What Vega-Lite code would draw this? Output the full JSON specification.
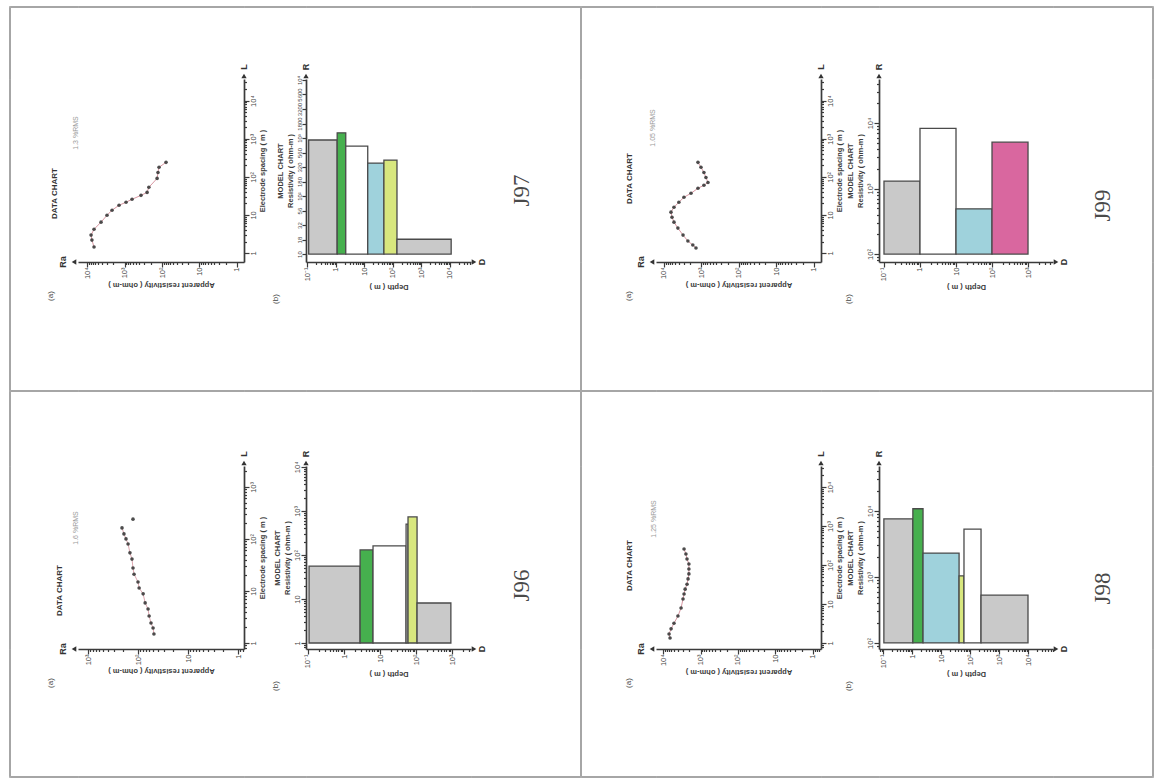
{
"$schema": "https://vega.github.io/schema/vega-lite/v6.json",
"background": "#ffffff",
"padding": {"left": 8, "top": 5, "right": 2, "bottom": 2},
"config": {
  "font": "Liberation Sans",
  "view": {"stroke": null},
  "axis": {"grid": false, "domainColor": "#3b3b3b", "domainWidth": 1.7, "tickColor": "#3b3b3b", "tickWidth": 1.2, "labelFontSize": 7.5, "labelColor": "#444444", "labelPadding": 0, "labelOverlap": false, "labelFlush": false, "titleFontSize": 7.5, "titleFontWeight": "bold", "titleColor": "#3b3b3b", "titlePadding": 2},
  "text": {"color": "#333333"}
},
"columns": 13,
"spacing": 0,
"bounds": "flush",
"align": "each",
"concat": [
{"width":1,"height":1,"data":{"values":[]},"mark":"text","view":{"stroke":"#a6a6a6","strokeWidth":1}},
{"width":68,"height":1,"data":{"values":[]},"mark":"text","view":{"stroke":"#a6a6a6","strokeWidth":1}},
{"width":166,"height":1,"data":{"values":[]},"mark":"text","view":{"stroke":"#a6a6a6","strokeWidth":1}},
{"width":62,"height":1,"data":{"values":[]},"mark":"text","view":{"stroke":"#a6a6a6","strokeWidth":1}},
{"width":165,"height":1,"data":{"values":[]},"mark":"text","view":{"stroke":"#a6a6a6","strokeWidth":1}},
{"width":109,"height":1,"data":{"values":[]},"mark":"text","view":{"stroke":"#a6a6a6","strokeWidth":1}},
{"width":1,"height":1,"data":{"values":[]},"mark":"text","view":{"stroke":"#a6a6a6","strokeWidth":1}},
{"width":75,"height":1,"data":{"values":[]},"mark":"text","view":{"stroke":"#a6a6a6","strokeWidth":1}},
{"width":165,"height":1,"data":{"values":[]},"mark":"text","view":{"stroke":"#a6a6a6","strokeWidth":1}},
{"width":58,"height":1,"data":{"values":[]},"mark":"text","view":{"stroke":"#a6a6a6","strokeWidth":1}},
{"width":174,"height":1,"data":{"values":[]},"mark":"text","view":{"stroke":"#a6a6a6","strokeWidth":1}},
{"width":99,"height":1,"data":{"values":[]},"mark":"text","view":{"stroke":"#a6a6a6","strokeWidth":1}},
{"width":1,"height":1,"data":{"values":[]},"mark":"text","view":{"stroke":"#a6a6a6","strokeWidth":1}},

{"width":1,"height":72,"data":{"values":[]},"mark":"text","view":{"stroke":"#a6a6a6","strokeWidth":1}},
{"width":1,"height":1,"data":{"values":[]},"mark":"text"},
{"width":1,"height":1,"data":{"values":[]},"mark":"text"},
{"width":1,"height":1,"data":{"values":[]},"mark":"text"},
{"width":1,"height":1,"data":{"values":[]},"mark":"text"},
{"width":1,"height":1,"data":{"values":[]},"mark":"text"},
{"width":1,"height":72,"data":{"values":[]},"mark":"text","view":{"stroke":"#a6a6a6","strokeWidth":1}},
{"width":1,"height":1,"data":{"values":[]},"mark":"text"},
{"width":1,"height":1,"data":{"values":[]},"mark":"text"},
{"width":1,"height":1,"data":{"values":[]},"mark":"text"},
{"width":1,"height":1,"data":{"values":[]},"mark":"text"},
{"width":1,"height":1,"data":{"values":[]},"mark":"text"},
{"width":1,"height":72,"data":{"values":[]},"mark":"text","view":{"stroke":"#a6a6a6","strokeWidth":1}},

{"width":1,"height":183,"data":{"values":[]},"mark":"text","view":{"stroke":"#a6a6a6","strokeWidth":1}},
{"width":1,"height":1,"data":{"values":[]},"mark":"text"},
{
 "width": 166, "height": 183,
 "title": {"text": "DATA CHART", "orient": "left", "anchor": "middle", "offset": -11.5, "fontSize": 8, "fontWeight": "bold", "color": "#333333", "dx": -23},
 "data": {"values": [{"Ra":6500,"L":1.44},{"Ra":7400,"L":2.18},{"Ra":7800,"L":2.95},{"Ra":6500,"L":4.2},{"Ra":4230,"L":6.45},{"Ra":2930,"L":9.8},{"Ra":2150,"L":13.3},{"Ra":1400,"L":17.9},{"Ra":910,"L":21.5},{"Ra":630,"L":25.7},{"Ra":363,"L":32.6},{"Ra":250,"L":39},{"Ra":224,"L":53},{"Ra":135,"L":91},{"Ra":128,"L":130},{"Ra":120,"L":178},{"Ra":78,"L":240}]},
 "layer": [
  {"mark": {"type": "line", "color": "#c76b7a", "strokeWidth": 1, "opacity": 0.7},
   "encoding": {
    "x": {"field": "Ra", "type": "quantitative", "scale": {"type": "log", "domain": [0.65, 17400], "reverse": true, "nice": false},
      "axis": {"title": "Apparent resistivity ( ohm-m )", "titleAngle": 180, "titleBaseline": "bottom", "labelAngle": 270,
        "values": [1,2,3,4,5,6,7,8,9,10,20,30,40,50,60,70,80,90,100,200,300,400,500,600,700,800,900,1000,2000,3000,4000,5000,6000,7000,8000,9000,10000],
        "labelExpr": "abs(log(datum.value)/LN10-round(log(datum.value)/LN10))>0.000001 ? '' : ['10⁻¹','1','10','10²','10³','10⁴','10⁵'][round(log(datum.value)/LN10)+1]",
        "tickSize": {"condition": {"test": "abs(log(datum.value)/LN10-round(log(datum.value)/LN10))<0.000001", "value": 5}, "value": 2.5}}},
    "y": {"field": "L", "type": "quantitative", "scale": {"type": "log", "domain": [0.58, 37000], "nice": false},
      "axis": {"orient": "right", "title": "Electrode spacing ( m )", "titleAngle": 270, "titleBaseline": "top", "labelAngle": 270,
        "values": [1,2,3,4,5,6,7,8,9,10,20,30,40,50,60,70,80,90,100,200,300,400,500,600,700,800,900,1000,2000,3000,4000,5000,6000,7000,8000,9000,10000,20000,30000],
        "labelExpr": "abs(log(datum.value)/LN10-round(log(datum.value)/LN10))>0.000001 ? '' : ['10⁻¹','1','10','10²','10³','10⁴','10⁵'][round(log(datum.value)/LN10)+1]",
        "tickSize": {"condition": {"test": "abs(log(datum.value)/LN10-round(log(datum.value)/LN10))<0.000001", "value": 5}, "value": 2.5}}},
    "order": {"field": "L", "type": "quantitative"}}},
  {"mark": {"type": "point", "filled": true, "size": 13, "color": "#3a3a3a", "opacity": 0.9},
   "encoding": {"x": {"field": "Ra", "type": "quantitative"}, "y": {"field": "L", "type": "quantitative"}}},
  {"data": {"values": [{}]}, "mark": {"type": "point", "shape": "triangle-left", "filled": true, "size": 28, "color": "#333333", "opacity": 1, "xOffset": -4},
   "encoding": {"x": {"datum": 17400, "type": "quantitative"}, "y": {"datum": 0.58, "type": "quantitative"}}},
  {"data": {"values": [{}]}, "mark": {"type": "point", "shape": "triangle-up", "filled": true, "size": 28, "color": "#333333", "opacity": 1, "yOffset": -3},
   "encoding": {"x": {"datum": 0.65, "type": "quantitative"}, "y": {"datum": 37000, "type": "quantitative"}}},
  {"data": {"values": [{}]}, "mark": {"type": "text", "text": "Ra", "angle": 270, "fontSize": 9, "fontWeight": "bold", "color": "#333333", "dy": -15},
   "encoding": {"x": {"datum": 17400, "type": "quantitative"}, "y": {"datum": 0.58, "type": "quantitative"}}},
  {"data": {"values": [{}]}, "mark": {"type": "text", "text": "L", "angle": 270, "fontSize": 9, "fontWeight": "bold", "color": "#333333", "dx": 12},
   "encoding": {"x": {"datum": 0.65, "type": "quantitative"}, "y": {"datum": 37000, "type": "quantitative"}}},
  {"data": {"values": [{}]}, "mark": {"type": "text", "text": "1.3 %RMS", "angle": 270, "fontSize": 7, "color": "#9a9a9a", "dy": -2},
   "encoding": {"x": {"datum": 17400, "type": "quantitative"}, "y": {"datum": 1413, "type": "quantitative"}}},
  {"data": {"values": [{}]}, "mark": {"type": "text", "text": "(a)", "angle": 270, "fontSize": 8, "color": "#444444", "dx": -34, "dy": -27},
   "encoding": {"x": {"datum": 17400, "type": "quantitative"}, "y": {"datum": 0.58, "type": "quantitative"}}}
 ]
},
{"width":1,"height":1,"data":{"values":[]},"mark":"text"},
{
 "width": 165, "height": 183,
 "title": {"text": "J97", "orient": "right", "angle": 270, "font": "Liberation Serif", "fontSize": 23, "fontWeight": "normal", "color": "#4a4a4a", "offset": 1, "dx": -20},
 "data": {"values": [{"d0":0.11,"d1":1.1,"r":925,"layer":"gray"},{"d0":1.1,"d1":2.2,"r":1230,"layer":"green"},{"d0":2.2,"d1":13,"r":725,"layer":"white"},{"d0":13,"d1":48,"r":370,"layer":"cyan"},{"d0":48,"d1":138,"r":417,"layer":"yellow"},{"d0":138,"d1":11000,"r":18,"layer":"gray"}]},
 "layer": [
  {"mark": {"type": "rect", "stroke": "#4a4a4a", "strokeWidth": 1.3},
   "encoding": {
    "x": {"field": "d0", "type": "quantitative", "scale": {"type": "log", "domain": [0.0886, 54600], "nice": false},
      "axis": {"title": "Depth ( m )", "titleAngle": 180, "titleBaseline": "bottom", "labelAngle": 270,
        "values": [0.1,0.2,0.3,0.4,0.5,0.6,0.7,0.8,0.9,1,2,3,4,5,6,7,8,9,10,20,30,40,50,60,70,80,90,100,200,300,400,500,600,700,800,900,1000,2000,3000,4000,5000,6000,7000,8000,9000,10000,20000,30000,40000,50000],
        "labelExpr": "abs(log(datum.value)/LN10-round(log(datum.value)/LN10))>0.000001 ? '' : ['10⁻¹','1','10','10²','10³','10⁴','10⁵'][round(log(datum.value)/LN10)+1]",
        "tickSize": {"condition": {"test": "abs(log(datum.value)/LN10-round(log(datum.value)/LN10))<0.000001", "value": 5}, "value": 2.5}}},
    "x2": {"field": "d1"},
    "y": {"field": "r", "type": "quantitative", "scale": {"type": "log", "domain": [7.3, 10400], "nice": false},
      "axis": {"title": ["MODEL CHART", "Resistivity ( ohm-m )"], "labelAngle": 270, "labelFontSize": 6,
        "values": [10,17.78,31.62,56.23,100,177.8,316.2,562.3,1000,1778,3162,5623,10000],
        "labelExpr": "abs(log(datum.value)/LN10-round(log(datum.value)/LN10))>0.000001 ? format(datum.value,'.2r') : ['10⁻¹','1','10','10²','10³','10⁴','10⁵'][round(log(datum.value)/LN10)+1]",
        "tickSize": 4}},
    "y2": {"datum": 10},
    "color": {"field": "layer", "type": "nominal", "scale": {"domain": ["gray","green","white","cyan","yellow","pink"], "range": ["#c9c9c9","#46b04e","#ffffff","#9fd2dc","#d8e77e","#d9679f"]}, "legend": null}}},
  {"data": {"values": [{}]}, "mark": {"type": "point", "shape": "triangle-up", "filled": true, "size": 28, "color": "#333333", "opacity": 1, "yOffset": -3},
   "encoding": {"x": {"datum": 0.0886, "type": "quantitative"}, "y": {"datum": 10400, "type": "quantitative"}}},
  {"data": {"values": [{}]}, "mark": {"type": "point", "shape": "triangle-right", "filled": true, "size": 28, "color": "#333333", "opacity": 1, "xOffset": 3},
   "encoding": {"x": {"datum": 54600, "type": "quantitative"}, "y": {"datum": 7.3, "type": "quantitative"}}},
  {"data": {"values": [{}]}, "mark": {"type": "text", "text": "R", "angle": 270, "fontSize": 9, "fontWeight": "bold", "color": "#333333", "dx": 12},
   "encoding": {"x": {"datum": 0.0886, "type": "quantitative"}, "y": {"datum": 10400, "type": "quantitative"}}},
  {"data": {"values": [{}]}, "mark": {"type": "text", "text": "D", "angle": 270, "fontSize": 9, "fontWeight": "bold", "color": "#333333", "dy": 11},
   "encoding": {"x": {"datum": 54600, "type": "quantitative"}, "y": {"datum": 7.3, "type": "quantitative"}}},
  {"data": {"values": [{}]}, "mark": {"type": "text", "text": "(b)", "angle": 270, "fontSize": 8, "color": "#444444", "dx": -37, "dy": -30},
   "encoding": {"x": {"datum": 0.0886, "type": "quantitative"}, "y": {"datum": 7.3, "type": "quantitative"}}}
 ]
},
{"width":1,"height":1,"data":{"values":[]},"mark":"text"},
{"width":1,"height":183,"data":{"values":[]},"mark":"text","view":{"stroke":"#a6a6a6","strokeWidth":1}},
{"width":1,"height":1,"data":{"values":[]},"mark":"text"},
{
 "width": 165, "height": 183,
 "title": {"text": "DATA CHART", "orient": "left", "anchor": "middle", "offset": -8.5, "fontSize": 8, "fontWeight": "bold", "color": "#333333", "dx": -8},
 "data": {"values": [{"Ra":1400,"L":1.35},{"Ra":1700,"L":1.62},{"Ra":2300,"L":2.06},{"Ra":3100,"L":2.95},{"Ra":4250,"L":4.5},{"Ra":5400,"L":6.45},{"Ra":6100,"L":8.7},{"Ra":6500,"L":11.8},{"Ra":5400,"L":15.9},{"Ra":4000,"L":21.5},{"Ra":2930,"L":29},{"Ra":1900,"L":37},{"Ra":1240,"L":50},{"Ra":860,"L":60},{"Ra":670,"L":71},{"Ra":760,"L":96},{"Ra":860,"L":130},{"Ra":1030,"L":178},{"Ra":1240,"L":240}]},
 "layer": [
  {"mark": {"type": "line", "color": "#c76b7a", "strokeWidth": 1, "opacity": 0.7},
   "encoding": {
    "x": {"field": "Ra", "type": "quantitative", "scale": {"type": "log", "domain": [0.65, 16300], "reverse": true, "nice": false},
      "axis": {"title": "Apparent resistivity ( ohm-m )", "titleAngle": 180, "titleBaseline": "bottom", "labelAngle": 270,
        "values": [1,2,3,4,5,6,7,8,9,10,20,30,40,50,60,70,80,90,100,200,300,400,500,600,700,800,900,1000,2000,3000,4000,5000,6000,7000,8000,9000,10000],
        "labelExpr": "abs(log(datum.value)/LN10-round(log(datum.value)/LN10))>0.000001 ? '' : ['10⁻¹','1','10','10²','10³','10⁴','10⁵'][round(log(datum.value)/LN10)+1]",
        "tickSize": {"condition": {"test": "abs(log(datum.value)/LN10-round(log(datum.value)/LN10))<0.000001", "value": 5}, "value": 2.5}}},
    "y": {"field": "L", "type": "quantitative", "scale": {"type": "log", "domain": [0.58, 37000], "nice": false},
      "axis": {"orient": "right", "title": "Electrode spacing ( m )", "titleAngle": 270, "titleBaseline": "top", "labelAngle": 270,
        "values": [1,2,3,4,5,6,7,8,9,10,20,30,40,50,60,70,80,90,100,200,300,400,500,600,700,800,900,1000,2000,3000,4000,5000,6000,7000,8000,9000,10000,20000,30000],
        "labelExpr": "abs(log(datum.value)/LN10-round(log(datum.value)/LN10))>0.000001 ? '' : ['10⁻¹','1','10','10²','10³','10⁴','10⁵'][round(log(datum.value)/LN10)+1]",
        "tickSize": {"condition": {"test": "abs(log(datum.value)/LN10-round(log(datum.value)/LN10))<0.000001", "value": 5}, "value": 2.5}}},
    "order": {"field": "L", "type": "quantitative"}}},
  {"mark": {"type": "point", "filled": true, "size": 13, "color": "#3a3a3a", "opacity": 0.9},
   "encoding": {"x": {"field": "Ra", "type": "quantitative"}, "y": {"field": "L", "type": "quantitative"}}},
  {"data": {"values": [{}]}, "mark": {"type": "point", "shape": "triangle-left", "filled": true, "size": 28, "color": "#333333", "opacity": 1, "xOffset": -4},
   "encoding": {"x": {"datum": 16300, "type": "quantitative"}, "y": {"datum": 0.58, "type": "quantitative"}}},
  {"data": {"values": [{}]}, "mark": {"type": "point", "shape": "triangle-up", "filled": true, "size": 28, "color": "#333333", "opacity": 1, "yOffset": -3},
   "encoding": {"x": {"datum": 0.65, "type": "quantitative"}, "y": {"datum": 37000, "type": "quantitative"}}},
  {"data": {"values": [{}]}, "mark": {"type": "text", "text": "Ra", "angle": 270, "fontSize": 9, "fontWeight": "bold", "color": "#333333", "dy": -15},
   "encoding": {"x": {"datum": 16300, "type": "quantitative"}, "y": {"datum": 0.58, "type": "quantitative"}}},
  {"data": {"values": [{}]}, "mark": {"type": "text", "text": "L", "angle": 270, "fontSize": 9, "fontWeight": "bold", "color": "#333333", "dx": 12},
   "encoding": {"x": {"datum": 0.65, "type": "quantitative"}, "y": {"datum": 37000, "type": "quantitative"}}},
  {"data": {"values": [{}]}, "mark": {"type": "text", "text": "1.05 %RMS", "angle": 270, "fontSize": 7, "color": "#9a9a9a", "dy": -3},
   "encoding": {"x": {"datum": 16300, "type": "quantitative"}, "y": {"datum": 1914, "type": "quantitative"}}},
  {"data": {"values": [{}]}, "mark": {"type": "text", "text": "(a)", "angle": 270, "fontSize": 8, "color": "#444444", "dx": -34, "dy": -27},
   "encoding": {"x": {"datum": 16300, "type": "quantitative"}, "y": {"datum": 0.58, "type": "quantitative"}}}
 ]
},
{"width":1,"height":1,"data":{"values":[]},"mark":"text"},
{
 "width": 174, "height": 183,
 "title": {"text": "J99", "orient": "right", "angle": 270, "font": "Liberation Serif", "fontSize": 23, "fontWeight": "normal", "color": "#4a4a4a", "offset": 0, "dx": -35},
 "data": {"values": [{"d0":0.1,"d1":1,"r":1300,"layer":"gray"},{"d0":1,"d1":10,"r":8300,"layer":"white"},{"d0":10,"d1":100,"r":490,"layer":"cyan"},{"d0":100,"d1":1000,"r":5100,"layer":"pink"}]},
 "layer": [
  {"mark": {"type": "rect", "stroke": "#4a4a4a", "strokeWidth": 1.3},
   "encoding": {
    "x": {"field": "d0", "type": "quantitative", "scale": {"type": "log", "domain": [0.0727, 4940], "nice": false},
      "axis": {"title": "Depth ( m )", "titleAngle": 180, "titleBaseline": "bottom", "labelAngle": 270,
        "values": [0.1,0.2,0.3,0.4,0.5,0.6,0.7,0.8,0.9,1,2,3,4,5,6,7,8,9,10,20,30,40,50,60,70,80,90,100,200,300,400,500,600,700,800,900,1000,2000,3000,4000],
        "labelExpr": "abs(log(datum.value)/LN10-round(log(datum.value)/LN10))>0.000001 ? '' : ['10⁻¹','1','10','10²','10³','10⁴','10⁵'][round(log(datum.value)/LN10)+1]",
        "tickSize": {"condition": {"test": "abs(log(datum.value)/LN10-round(log(datum.value)/LN10))<0.000001", "value": 5}, "value": 2.5}}},
    "x2": {"field": "d1"},
    "y": {"field": "r", "type": "quantitative", "scale": {"type": "log", "domain": [75.6, 47000], "nice": false},
      "axis": {"title": ["MODEL CHART", "Resistivity ( ohm-m )"], "labelAngle": 270,
        "values": [80,90,100,200,300,400,500,600,700,800,900,1000,2000,3000,4000,5000,6000,7000,8000,9000,10000,20000,30000,40000],
        "labelExpr": "abs(log(datum.value)/LN10-round(log(datum.value)/LN10))>0.000001 ? '' : ['10⁻¹','1','10','10²','10³','10⁴','10⁵'][round(log(datum.value)/LN10)+1]",
        "tickSize": {"condition": {"test": "abs(log(datum.value)/LN10-round(log(datum.value)/LN10))<0.000001", "value": 5}, "value": 2.5}}},
    "y2": {"datum": 100},
    "color": {"field": "layer", "type": "nominal", "scale": {"domain": ["gray","green","white","cyan","yellow","pink"], "range": ["#c9c9c9","#46b04e","#ffffff","#9fd2dc","#d8e77e","#d9679f"]}, "legend": null}}},
  {"data": {"values": [{}]}, "mark": {"type": "point", "shape": "triangle-up", "filled": true, "size": 28, "color": "#333333", "opacity": 1, "yOffset": -3},
   "encoding": {"x": {"datum": 0.0727, "type": "quantitative"}, "y": {"datum": 47000, "type": "quantitative"}}},
  {"data": {"values": [{}]}, "mark": {"type": "point", "shape": "triangle-right", "filled": true, "size": 28, "color": "#333333", "opacity": 1, "xOffset": 3},
   "encoding": {"x": {"datum": 4940, "type": "quantitative"}, "y": {"datum": 75.6, "type": "quantitative"}}},
  {"data": {"values": [{}]}, "mark": {"type": "text", "text": "R", "angle": 270, "fontSize": 9, "fontWeight": "bold", "color": "#333333", "dx": 12},
   "encoding": {"x": {"datum": 0.0727, "type": "quantitative"}, "y": {"datum": 47000, "type": "quantitative"}}},
  {"data": {"values": [{}]}, "mark": {"type": "text", "text": "D", "angle": 270, "fontSize": 9, "fontWeight": "bold", "color": "#333333", "dy": 11},
   "encoding": {"x": {"datum": 4940, "type": "quantitative"}, "y": {"datum": 75.6, "type": "quantitative"}}},
  {"data": {"values": [{}]}, "mark": {"type": "text", "text": "(b)", "angle": 270, "fontSize": 8, "color": "#444444", "dx": -37, "dy": -30},
   "encoding": {"x": {"datum": 0.0727, "type": "quantitative"}, "y": {"datum": 75.6, "type": "quantitative"}}}
 ]
},
{"width":1,"height":1,"data":{"values":[]},"mark":"text"},
{"width":1,"height":183,"data":{"values":[]},"mark":"text","view":{"stroke":"#a6a6a6","strokeWidth":1}},

{"width":1,"height":128,"data":{"values":[]},"mark":"text","view":{"stroke":"#a6a6a6","strokeWidth":1}},
{"width":1,"height":1,"data":{"values":[]},"mark":"text"},
{"width":1,"height":1,"data":{"values":[]},"mark":"text"},
{"width":1,"height":1,"data":{"values":[]},"mark":"text"},
{"width":1,"height":1,"data":{"values":[]},"mark":"text"},
{"width":1,"height":1,"data":{"values":[]},"mark":"text"},
{"width":1,"height":128,"data":{"values":[]},"mark":"text","view":{"stroke":"#a6a6a6","strokeWidth":1}},
{"width":1,"height":1,"data":{"values":[]},"mark":"text"},
{"width":1,"height":1,"data":{"values":[]},"mark":"text"},
{"width":1,"height":1,"data":{"values":[]},"mark":"text"},
{"width":1,"height":1,"data":{"values":[]},"mark":"text"},
{"width":1,"height":1,"data":{"values":[]},"mark":"text"},
{"width":1,"height":128,"data":{"values":[]},"mark":"text","view":{"stroke":"#a6a6a6","strokeWidth":1}},

{"width":1,"height":1,"data":{"values":[]},"mark":"text","view":{"stroke":"#a6a6a6","strokeWidth":1}},
{"width":68,"height":1,"data":{"values":[]},"mark":"text","view":{"stroke":"#a6a6a6","strokeWidth":1}},
{"width":166,"height":1,"data":{"values":[]},"mark":"text","view":{"stroke":"#a6a6a6","strokeWidth":1}},
{"width":62,"height":1,"data":{"values":[]},"mark":"text","view":{"stroke":"#a6a6a6","strokeWidth":1}},
{"width":165,"height":1,"data":{"values":[]},"mark":"text","view":{"stroke":"#a6a6a6","strokeWidth":1}},
{"width":109,"height":1,"data":{"values":[]},"mark":"text","view":{"stroke":"#a6a6a6","strokeWidth":1}},
{"width":1,"height":1,"data":{"values":[]},"mark":"text","view":{"stroke":"#a6a6a6","strokeWidth":1}},
{"width":75,"height":1,"data":{"values":[]},"mark":"text","view":{"stroke":"#a6a6a6","strokeWidth":1}},
{"width":165,"height":1,"data":{"values":[]},"mark":"text","view":{"stroke":"#a6a6a6","strokeWidth":1}},
{"width":58,"height":1,"data":{"values":[]},"mark":"text","view":{"stroke":"#a6a6a6","strokeWidth":1}},
{"width":174,"height":1,"data":{"values":[]},"mark":"text","view":{"stroke":"#a6a6a6","strokeWidth":1}},
{"width":99,"height":1,"data":{"values":[]},"mark":"text","view":{"stroke":"#a6a6a6","strokeWidth":1}},
{"width":1,"height":1,"data":{"values":[]},"mark":"text","view":{"stroke":"#a6a6a6","strokeWidth":1}},

{"width":1,"height":75,"data":{"values":[]},"mark":"text","view":{"stroke":"#a6a6a6","strokeWidth":1}},
{"width":1,"height":1,"data":{"values":[]},"mark":"text"},
{"width":1,"height":1,"data":{"values":[]},"mark":"text"},
{"width":1,"height":1,"data":{"values":[]},"mark":"text"},
{"width":1,"height":1,"data":{"values":[]},"mark":"text"},
{"width":1,"height":1,"data":{"values":[]},"mark":"text"},
{"width":1,"height":75,"data":{"values":[]},"mark":"text","view":{"stroke":"#a6a6a6","strokeWidth":1}},
{"width":1,"height":1,"data":{"values":[]},"mark":"text"},
{"width":1,"height":1,"data":{"values":[]},"mark":"text"},
{"width":1,"height":1,"data":{"values":[]},"mark":"text"},
{"width":1,"height":1,"data":{"values":[]},"mark":"text"},
{"width":1,"height":1,"data":{"values":[]},"mark":"text"},
{"width":1,"height":75,"data":{"values":[]},"mark":"text","view":{"stroke":"#a6a6a6","strokeWidth":1}},

{"width":1,"height":183,"data":{"values":[]},"mark":"text","view":{"stroke":"#a6a6a6","strokeWidth":1}},
{"width":1,"height":1,"data":{"values":[]},"mark":"text"},
{
 "width": 166, "height": 183,
 "title": {"text": "DATA CHART", "orient": "left", "anchor": "middle", "offset": -16.5, "fontSize": 8, "fontWeight": "bold", "color": "#333333", "dx": -33},
 "data": {"values": [{"Ra":48,"L":1.49},{"Ra":50,"L":1.94},{"Ra":55,"L":2.43},{"Ra":60,"L":3.3},{"Ra":63,"L":4.5},{"Ra":72,"L":5.9},{"Ra":79,"L":8.8},{"Ra":95,"L":11.4},{"Ra":100,"L":14.9},{"Ra":120,"L":21},{"Ra":126,"L":27.6},{"Ra":132,"L":41},{"Ra":145,"L":54},{"Ra":158,"L":80},{"Ra":174,"L":100},{"Ra":191,"L":125},{"Ra":209,"L":163},{"Ra":126,"L":240}]},
 "layer": [
  {"transform": [{"filter": "datum.L < 200"}],
   "mark": {"type": "line", "color": "#c76b7a", "strokeWidth": 1, "opacity": 0.6},
   "encoding": {
    "x": {"field": "Ra", "type": "quantitative", "scale": {"type": "log", "domain": [0.76, 1585], "reverse": true, "nice": false},
      "axis": {"title": "Apparent resistivity ( ohm-m )", "titleAngle": 180, "titleBaseline": "bottom", "labelAngle": 270,
        "values": [0.8,0.9,1,2,3,4,5,6,7,8,9,10,20,30,40,50,60,70,80,90,100,200,300,400,500,600,700,800,900,1000],
        "labelExpr": "abs(log(datum.value)/LN10-round(log(datum.value)/LN10))>0.000001 ? '' : ['10⁻¹','1','10','10²','10³','10⁴','10⁵'][round(log(datum.value)/LN10)+1]",
        "tickSize": {"condition": {"test": "abs(log(datum.value)/LN10-round(log(datum.value)/LN10))<0.000001", "value": 5}, "value": 2.5}}},
    "y": {"field": "L", "type": "quantitative", "scale": {"type": "log", "domain": [0.767, 2520], "nice": false},
      "axis": {"orient": "right", "title": "Electrode spacing ( m )", "titleAngle": 270, "titleBaseline": "top", "labelAngle": 270,
        "values": [0.8,0.9,1,2,3,4,5,6,7,8,9,10,20,30,40,50,60,70,80,90,100,200,300,400,500,600,700,800,900,1000,2000],
        "labelExpr": "abs(log(datum.value)/LN10-round(log(datum.value)/LN10))>0.000001 ? '' : ['10⁻¹','1','10','10²','10³','10⁴','10⁵'][round(log(datum.value)/LN10)+1]",
        "tickSize": {"condition": {"test": "abs(log(datum.value)/LN10-round(log(datum.value)/LN10))<0.000001", "value": 5}, "value": 2.5}}},
    "order": {"field": "L", "type": "quantitative"}}},
  {"mark": {"type": "point", "filled": true, "size": 13, "color": "#3a3a3a", "opacity": 0.9},
   "encoding": {"x": {"field": "Ra", "type": "quantitative"}, "y": {"field": "L", "type": "quantitative"}}},
  {"data": {"values": [{}]}, "mark": {"type": "point", "shape": "triangle-left", "filled": true, "size": 28, "color": "#333333", "opacity": 1, "xOffset": -4},
   "encoding": {"x": {"datum": 1585, "type": "quantitative"}, "y": {"datum": 0.767, "type": "quantitative"}}},
  {"data": {"values": [{}]}, "mark": {"type": "point", "shape": "triangle-up", "filled": true, "size": 28, "color": "#333333", "opacity": 1, "yOffset": -3},
   "encoding": {"x": {"datum": 0.76, "type": "quantitative"}, "y": {"datum": 2520, "type": "quantitative"}}},
  {"data": {"values": [{}]}, "mark": {"type": "text", "text": "Ra", "angle": 270, "fontSize": 9, "fontWeight": "bold", "color": "#333333", "dy": -15},
   "encoding": {"x": {"datum": 1585, "type": "quantitative"}, "y": {"datum": 0.767, "type": "quantitative"}}},
  {"data": {"values": [{}]}, "mark": {"type": "text", "text": "L", "angle": 270, "fontSize": 9, "fontWeight": "bold", "color": "#333333", "dx": 12},
   "encoding": {"x": {"datum": 0.76, "type": "quantitative"}, "y": {"datum": 2520, "type": "quantitative"}}},
  {"data": {"values": [{}]}, "mark": {"type": "text", "text": "1.6 %RMS", "angle": 270, "fontSize": 7, "color": "#9a9a9a", "dy": -2},
   "encoding": {"x": {"datum": 1585, "type": "quantitative"}, "y": {"datum": 162, "type": "quantitative"}}},
  {"data": {"values": [{}]}, "mark": {"type": "text", "text": "(a)", "angle": 270, "fontSize": 8, "color": "#444444", "dx": -34, "dy": -27},
   "encoding": {"x": {"datum": 1585, "type": "quantitative"}, "y": {"datum": 0.767, "type": "quantitative"}}}
 ]
},
{"width":1,"height":1,"data":{"values":[]},"mark":"text"},
{
 "width": 165, "height": 183,
 "title": {"text": "J96", "orient": "right", "angle": 270, "font": "Liberation Serif", "fontSize": 23, "fontWeight": "normal", "color": "#4a4a4a", "offset": 1, "dx": -28},
 "data": {"values": [{"d0":0.107,"d1":2.8,"r":56,"layer":"gray"},{"d0":2.8,"d1":6.4,"r":130,"layer":"green"},{"d0":6.4,"d1":53,"r":160,"layer":"white"},{"d0":53,"d1":60,"r":500,"layer":"white"},{"d0":60,"d1":107,"r":730,"layer":"yellow"},{"d0":107,"d1":930,"r":8.1,"layer":"gray"}]},
 "layer": [
  {"mark": {"type": "rect", "stroke": "#4a4a4a", "strokeWidth": 1.3},
   "encoding": {
    "x": {"field": "d0", "type": "quantitative", "scale": {"type": "log", "domain": [0.088, 3370], "nice": false},
      "axis": {"title": "Depth ( m )", "titleAngle": 180, "titleBaseline": "bottom", "labelAngle": 270,
        "values": [0.1,0.2,0.3,0.4,0.5,0.6,0.7,0.8,0.9,1,2,3,4,5,6,7,8,9,10,20,30,40,50,60,70,80,90,100,200,300,400,500,600,700,800,900,1000,2000,3000],
        "labelExpr": "abs(log(datum.value)/LN10-round(log(datum.value)/LN10))>0.000001 ? '' : ['10⁻¹','1','10','10²','10³','10⁴','10⁵'][round(log(datum.value)/LN10)+1]",
        "tickSize": {"condition": {"test": "abs(log(datum.value)/LN10-round(log(datum.value)/LN10))<0.000001", "value": 5}, "value": 2.5}}},
    "x2": {"field": "d1"},
    "y": {"field": "r", "type": "quantitative", "scale": {"type": "log", "domain": [0.73, 10500], "nice": false},
      "axis": {"title": ["MODEL CHART", "Resistivity ( ohm-m )"], "labelAngle": 270,
        "values": [0.8,0.9,1,2,3,4,5,6,7,8,9,10,20,30,40,50,60,70,80,90,100,200,300,400,500,600,700,800,900,1000,2000,3000,4000,5000,6000,7000,8000,9000,10000],
        "labelExpr": "abs(log(datum.value)/LN10-round(log(datum.value)/LN10))>0.000001 ? '' : ['10⁻¹','1','10','10²','10³','10⁴','10⁵'][round(log(datum.value)/LN10)+1]",
        "tickSize": {"condition": {"test": "abs(log(datum.value)/LN10-round(log(datum.value)/LN10))<0.000001", "value": 5}, "value": 2.5}}},
    "y2": {"datum": 1},
    "color": {"field": "layer", "type": "nominal", "scale": {"domain": ["gray","green","white","cyan","yellow","pink"], "range": ["#c9c9c9","#46b04e","#ffffff","#9fd2dc","#d8e77e","#d9679f"]}, "legend": null}}},
  {"data": {"values": [{}]}, "mark": {"type": "point", "shape": "triangle-up", "filled": true, "size": 28, "color": "#333333", "opacity": 1, "yOffset": -3},
   "encoding": {"x": {"datum": 0.088, "type": "quantitative"}, "y": {"datum": 10500, "type": "quantitative"}}},
  {"data": {"values": [{}]}, "mark": {"type": "point", "shape": "triangle-right", "filled": true, "size": 28, "color": "#333333", "opacity": 1, "xOffset": 3},
   "encoding": {"x": {"datum": 3370, "type": "quantitative"}, "y": {"datum": 0.73, "type": "quantitative"}}},
  {"data": {"values": [{}]}, "mark": {"type": "text", "text": "R", "angle": 270, "fontSize": 9, "fontWeight": "bold", "color": "#333333", "dx": 12},
   "encoding": {"x": {"datum": 0.088, "type": "quantitative"}, "y": {"datum": 10500, "type": "quantitative"}}},
  {"data": {"values": [{}]}, "mark": {"type": "text", "text": "D", "angle": 270, "fontSize": 9, "fontWeight": "bold", "color": "#333333", "dy": 11},
   "encoding": {"x": {"datum": 3370, "type": "quantitative"}, "y": {"datum": 0.73, "type": "quantitative"}}},
  {"data": {"values": [{}]}, "mark": {"type": "text", "text": "(b)", "angle": 270, "fontSize": 8, "color": "#444444", "dx": -37, "dy": -30},
   "encoding": {"x": {"datum": 0.088, "type": "quantitative"}, "y": {"datum": 0.73, "type": "quantitative"}}}
 ]
},
{"width":1,"height":1,"data":{"values":[]},"mark":"text"},
{"width":1,"height":183,"data":{"values":[]},"mark":"text","view":{"stroke":"#a6a6a6","strokeWidth":1}},
{"width":1,"height":1,"data":{"values":[]},"mark":"text"},
{
 "width": 165, "height": 183,
 "title": {"text": "DATA CHART", "orient": "left", "anchor": "middle", "offset": -8.5, "fontSize": 8, "fontWeight": "bold", "color": "#333333", "dx": -8},
 "data": {"values": [{"Ra":6500,"L":1.34},{"Ra":6900,"L":1.7},{"Ra":6100,"L":2.3},{"Ra":5100,"L":3.2},{"Ra":4000,"L":4.9},{"Ra":3300,"L":7.9},{"Ra":2930,"L":13.4},{"Ra":2750,"L":18},{"Ra":2570,"L":24},{"Ra":2290,"L":32},{"Ra":2150,"L":44},{"Ra":2040,"L":59},{"Ra":2040,"L":79},{"Ra":2040,"L":106},{"Ra":2290,"L":142},{"Ra":2450,"L":191},{"Ra":2750,"L":257}]},
 "layer": [
  {"mark": {"type": "line", "color": "#c76b7a", "strokeWidth": 1, "opacity": 0.7},
   "encoding": {
    "x": {"field": "Ra", "type": "quantitative", "scale": {"type": "log", "domain": [0.61, 15400], "reverse": true, "nice": false},
      "axis": {"title": "Apparent resistivity ( ohm-m )", "titleAngle": 180, "titleBaseline": "bottom", "labelAngle": 270,
        "values": [0.7,0.8,0.9,1,2,3,4,5,6,7,8,9,10,20,30,40,50,60,70,80,90,100,200,300,400,500,600,700,800,900,1000,2000,3000,4000,5000,6000,7000,8000,9000,10000],
        "labelExpr": "abs(log(datum.value)/LN10-round(log(datum.value)/LN10))>0.000001 ? '' : ['10⁻¹','1','10','10²','10³','10⁴','10⁵'][round(log(datum.value)/LN10)+1]",
        "tickSize": {"condition": {"test": "abs(log(datum.value)/LN10-round(log(datum.value)/LN10))<0.000001", "value": 5}, "value": 2.5}}},
    "y": {"field": "L", "type": "quantitative", "scale": {"type": "log", "domain": [0.70, 34600], "nice": false},
      "axis": {"orient": "right", "title": "Electrode spacing ( m )", "titleAngle": 270, "titleBaseline": "top", "labelAngle": 270,
        "values": [0.8,0.9,1,2,3,4,5,6,7,8,9,10,20,30,40,50,60,70,80,90,100,200,300,400,500,600,700,800,900,1000,2000,3000,4000,5000,6000,7000,8000,9000,10000,20000,30000],
        "labelExpr": "abs(log(datum.value)/LN10-round(log(datum.value)/LN10))>0.000001 ? '' : ['10⁻¹','1','10','10²','10³','10⁴','10⁵'][round(log(datum.value)/LN10)+1]",
        "tickSize": {"condition": {"test": "abs(log(datum.value)/LN10-round(log(datum.value)/LN10))<0.000001", "value": 5}, "value": 2.5}}},
    "order": {"field": "L", "type": "quantitative"}}},
  {"mark": {"type": "point", "filled": true, "size": 13, "color": "#3a3a3a", "opacity": 0.9},
   "encoding": {"x": {"field": "Ra", "type": "quantitative"}, "y": {"field": "L", "type": "quantitative"}}},
  {"data": {"values": [{}]}, "mark": {"type": "point", "shape": "triangle-left", "filled": true, "size": 28, "color": "#333333", "opacity": 1, "xOffset": -4},
   "encoding": {"x": {"datum": 15400, "type": "quantitative"}, "y": {"datum": 0.70, "type": "quantitative"}}},
  {"data": {"values": [{}]}, "mark": {"type": "point", "shape": "triangle-up", "filled": true, "size": 28, "color": "#333333", "opacity": 1, "yOffset": -3},
   "encoding": {"x": {"datum": 0.61, "type": "quantitative"}, "y": {"datum": 34600, "type": "quantitative"}}},
  {"data": {"values": [{}]}, "mark": {"type": "text", "text": "Ra", "angle": 270, "fontSize": 9, "fontWeight": "bold", "color": "#333333", "dy": -15},
   "encoding": {"x": {"datum": 15400, "type": "quantitative"}, "y": {"datum": 0.70, "type": "quantitative"}}},
  {"data": {"values": [{}]}, "mark": {"type": "text", "text": "L", "angle": 270, "fontSize": 9, "fontWeight": "bold", "color": "#333333", "dx": 12},
   "encoding": {"x": {"datum": 0.61, "type": "quantitative"}, "y": {"datum": 34600, "type": "quantitative"}}},
  {"data": {"values": [{}]}, "mark": {"type": "text", "text": "1.25 %RMS", "angle": 270, "fontSize": 7, "color": "#9a9a9a", "dy": -2},
   "encoding": {"x": {"datum": 15400, "type": "quantitative"}, "y": {"datum": 1514, "type": "quantitative"}}},
  {"data": {"values": [{}]}, "mark": {"type": "text", "text": "(a)", "angle": 270, "fontSize": 8, "color": "#444444", "dx": -34, "dy": -27},
   "encoding": {"x": {"datum": 15400, "type": "quantitative"}, "y": {"datum": 0.70, "type": "quantitative"}}}
 ]
},
{"width":1,"height":1,"data":{"values":[]},"mark":"text"},
{
 "width": 174, "height": 183,
 "title": {"text": "J98", "orient": "right", "angle": 270, "font": "Liberation Serif", "fontSize": 23, "fontWeight": "normal", "color": "#4a4a4a", "offset": 0, "dx": -31},
 "data": {"values": [{"d0":0.107,"d1":1.07,"r":7600,"layer":"gray"},{"d0":1.07,"d1":2.4,"r":10800,"layer":"green"},{"d0":2.4,"d1":42,"r":2300,"layer":"cyan"},{"d0":42,"d1":62,"r":1040,"layer":"yellow"},{"d0":62,"d1":240,"r":5300,"layer":"white"},{"d0":240,"d1":10000,"r":530,"layer":"gray"}]},
 "layer": [
  {"mark": {"type": "rect", "stroke": "#4a4a4a", "strokeWidth": 1.3},
   "encoding": {
    "x": {"field": "d0", "type": "quantitative", "scale": {"type": "log", "domain": [0.0727, 72800], "nice": false},
      "axis": {"title": "Depth ( m )", "titleAngle": 180, "titleBaseline": "bottom", "labelAngle": 270,
        "values": [0.08,0.09,0.1,0.2,0.3,0.4,0.5,0.6,0.7,0.8,0.9,1,2,3,4,5,6,7,8,9,10,20,30,40,50,60,70,80,90,100,200,300,400,500,600,700,800,900,1000,2000,3000,4000,5000,6000,7000,8000,9000,10000,20000,30000,40000,50000,60000,70000],
        "labelExpr": "abs(log(datum.value)/LN10-round(log(datum.value)/LN10))>0.000001 ? '' : ['10⁻¹','1','10','10²','10³','10⁴','10⁵'][round(log(datum.value)/LN10)+1]",
        "tickSize": {"condition": {"test": "abs(log(datum.value)/LN10-round(log(datum.value)/LN10))<0.000001", "value": 5}, "value": 2.5}}},
    "x2": {"field": "d1"},
    "y": {"field": "r", "type": "quantitative", "scale": {"type": "log", "domain": [81, 48000], "nice": false},
      "axis": {"title": ["MODEL CHART", "Resistivity ( ohm-m )"], "labelAngle": 270,
        "values": [90,100,200,300,400,500,600,700,800,900,1000,2000,3000,4000,5000,6000,7000,8000,9000,10000,20000,30000,40000],
        "labelExpr": "abs(log(datum.value)/LN10-round(log(datum.value)/LN10))>0.000001 ? '' : ['10⁻¹','1','10','10²','10³','10⁴','10⁵'][round(log(datum.value)/LN10)+1]",
        "tickSize": {"condition": {"test": "abs(log(datum.value)/LN10-round(log(datum.value)/LN10))<0.000001", "value": 5}, "value": 2.5}}},
    "y2": {"datum": 100},
    "color": {"field": "layer", "type": "nominal", "scale": {"domain": ["gray","green","white","cyan","yellow","pink"], "range": ["#c9c9c9","#46b04e","#ffffff","#9fd2dc","#d8e77e","#d9679f"]}, "legend": null}}},
  {"data": {"values": [{}]}, "mark": {"type": "point", "shape": "triangle-up", "filled": true, "size": 28, "color": "#333333", "opacity": 1, "yOffset": -3},
   "encoding": {"x": {"datum": 0.0727, "type": "quantitative"}, "y": {"datum": 48000, "type": "quantitative"}}},
  {"data": {"values": [{}]}, "mark": {"type": "point", "shape": "triangle-right", "filled": true, "size": 28, "color": "#333333", "opacity": 1, "xOffset": 3},
   "encoding": {"x": {"datum": 72800, "type": "quantitative"}, "y": {"datum": 81, "type": "quantitative"}}},
  {"data": {"values": [{}]}, "mark": {"type": "text", "text": "R", "angle": 270, "fontSize": 9, "fontWeight": "bold", "color": "#333333", "dx": 12},
   "encoding": {"x": {"datum": 0.0727, "type": "quantitative"}, "y": {"datum": 48000, "type": "quantitative"}}},
  {"data": {"values": [{}]}, "mark": {"type": "text", "text": "D", "angle": 270, "fontSize": 9, "fontWeight": "bold", "color": "#333333", "dy": 11},
   "encoding": {"x": {"datum": 72800, "type": "quantitative"}, "y": {"datum": 81, "type": "quantitative"}}},
  {"data": {"values": [{}]}, "mark": {"type": "text", "text": "(b)", "angle": 270, "fontSize": 8, "color": "#444444", "dx": -37, "dy": -30},
   "encoding": {"x": {"datum": 0.0727, "type": "quantitative"}, "y": {"datum": 81, "type": "quantitative"}}}
 ]
},
{"width":1,"height":1,"data":{"values":[]},"mark":"text"},
{"width":1,"height":183,"data":{"values":[]},"mark":"text","view":{"stroke":"#a6a6a6","strokeWidth":1}},

{"width":1,"height":127,"data":{"values":[]},"mark":"text","view":{"stroke":"#a6a6a6","strokeWidth":1}},
{"width":1,"height":1,"data":{"values":[]},"mark":"text"},
{"width":1,"height":1,"data":{"values":[]},"mark":"text"},
{"width":1,"height":1,"data":{"values":[]},"mark":"text"},
{"width":1,"height":1,"data":{"values":[]},"mark":"text"},
{"width":1,"height":1,"data":{"values":[]},"mark":"text"},
{"width":1,"height":127,"data":{"values":[]},"mark":"text","view":{"stroke":"#a6a6a6","strokeWidth":1}},
{"width":1,"height":1,"data":{"values":[]},"mark":"text"},
{"width":1,"height":1,"data":{"values":[]},"mark":"text"},
{"width":1,"height":1,"data":{"values":[]},"mark":"text"},
{"width":1,"height":1,"data":{"values":[]},"mark":"text"},
{"width":1,"height":1,"data":{"values":[]},"mark":"text"},
{"width":1,"height":127,"data":{"values":[]},"mark":"text","view":{"stroke":"#a6a6a6","strokeWidth":1}},

{"width":1,"height":1,"data":{"values":[]},"mark":"text","view":{"stroke":"#a6a6a6","strokeWidth":1}},
{"width":68,"height":1,"data":{"values":[]},"mark":"text","view":{"stroke":"#a6a6a6","strokeWidth":1}},
{"width":166,"height":1,"data":{"values":[]},"mark":"text","view":{"stroke":"#a6a6a6","strokeWidth":1}},
{"width":62,"height":1,"data":{"values":[]},"mark":"text","view":{"stroke":"#a6a6a6","strokeWidth":1}},
{"width":165,"height":1,"data":{"values":[]},"mark":"text","view":{"stroke":"#a6a6a6","strokeWidth":1}},
{"width":109,"height":1,"data":{"values":[]},"mark":"text","view":{"stroke":"#a6a6a6","strokeWidth":1}},
{"width":1,"height":1,"data":{"values":[]},"mark":"text","view":{"stroke":"#a6a6a6","strokeWidth":1}},
{"width":75,"height":1,"data":{"values":[]},"mark":"text","view":{"stroke":"#a6a6a6","strokeWidth":1}},
{"width":165,"height":1,"data":{"values":[]},"mark":"text","view":{"stroke":"#a6a6a6","strokeWidth":1}},
{"width":58,"height":1,"data":{"values":[]},"mark":"text","view":{"stroke":"#a6a6a6","strokeWidth":1}},
{"width":174,"height":1,"data":{"values":[]},"mark":"text","view":{"stroke":"#a6a6a6","strokeWidth":1}},
{"width":99,"height":1,"data":{"values":[]},"mark":"text","view":{"stroke":"#a6a6a6","strokeWidth":1}},
{"width":1,"height":1,"data":{"values":[]},"mark":"text","view":{"stroke":"#a6a6a6","strokeWidth":1}}
]
}
